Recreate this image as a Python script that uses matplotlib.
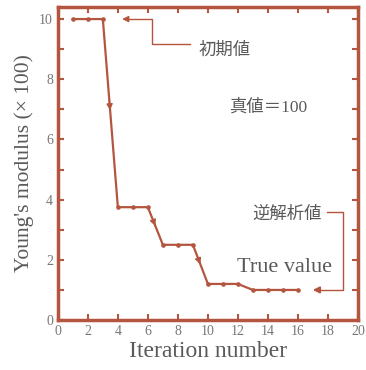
import numpy as np
import matplotlib
matplotlib.use('Agg')
from matplotlib import pyplot as plt

plt.rcParams['font.family'] = ['Liberation Serif', 'Noto Sans CJK JP']

# data
iteration = [1, 2, 3, 4, 5, 6, 7, 8, 9, 10, 11, 12, 13, 14, 15, 16]
modulus = [10.0, 10.0, 10.0, 3.75, 3.75, 3.75, 2.5, 2.5, 2.5, 1.2, 1.2, 1.2, 1.0, 1.0, 1.0, 1.0]
xticks = [0, 2, 4, 6, 8, 10, 12, 14, 16, 18, 20]
yticks = [0, 2, 4, 6, 8, 10]

red = '#b4553f'
txt = '#5a5a5a'

fig = plt.figure(figsize=(3.66, 3.70), dpi=100)
ax = fig.add_axes([0.158, 0.135, 0.82, 0.846])

ax.plot(iteration, modulus, color=red, lw=1.6, marker='o', ms=2.3)

# arrow heads on the three big drops
for i in [2, 5, 8]:
    x0, y0 = iteration[i], modulus[i]
    x1, y1 = iteration[i + 1], modulus[i + 1]
    ax.annotate('', xy=(x0 + 0.5 * (x1 - x0), y0 + 0.5 * (y1 - y0)),
                xytext=(x0 + 0.4 * (x1 - x0), y0 + 0.4 * (y1 - y0)),
                arrowprops=dict(arrowstyle='-|>', color=red, lw=1, mutation_scale=9))

# initial value callout
ax.plot([8.8, 6.25, 6.25, 4.6], [9.17, 9.17, 10.0, 10.0], color=red, lw=1)
ax.annotate('', xy=(4.1, 10.0), xytext=(4.7, 10.0),
            arrowprops=dict(arrowstyle='-|>', color=red, lw=1, mutation_scale=9))
ax.text(9.4, 8.95, '初期値', color=txt, fontsize=12.5, va='center', ha='left')

ax.text(14.0, 7.07, '真値＝100', color=txt, fontsize=12.5, va='center', ha='center')

# inverse analysis value callout
ax.plot([17.95, 19.0, 19.0, 17.3], [3.6, 3.6, 1.0, 1.0], color=red, lw=1)
ax.annotate('', xy=(16.8, 1.0), xytext=(17.5, 1.0),
            arrowprops=dict(arrowstyle='-|>', color=red, lw=1.5, mutation_scale=9))
ax.text(17.6, 3.5, '逆解析値', color=txt, fontsize=12.5, va='center', ha='right')
ax.text(15.1, 1.73, 'True value', color=txt, fontsize=16, va='center', ha='center')

ax.set_xlim(0, 20)
ax.set_ylim(0, 10.4)
ax.set_xticks(xticks)
ax.set_yticks(yticks)
ax.set_yticks(np.arange(1, 10, 2), minor=True)
ax.tick_params(which='both', direction='in', top=True, right=True, color=red,
               width=1.5, labelcolor='#777777', labelsize=10)
ax.tick_params(which='major', length=4)
ax.tick_params(which='minor', length=4)
for s in ax.spines.values():
    s.set_color(red)
    s.set_linewidth(2.5)

ax.set_xlabel('Iteration number', color=txt, fontsize=17, labelpad=2)
ax.set_ylabel("Young's modulus (× 100)", color=txt, fontsize=15.5, labelpad=4)

fig.savefig('out.png', dpi=100)
